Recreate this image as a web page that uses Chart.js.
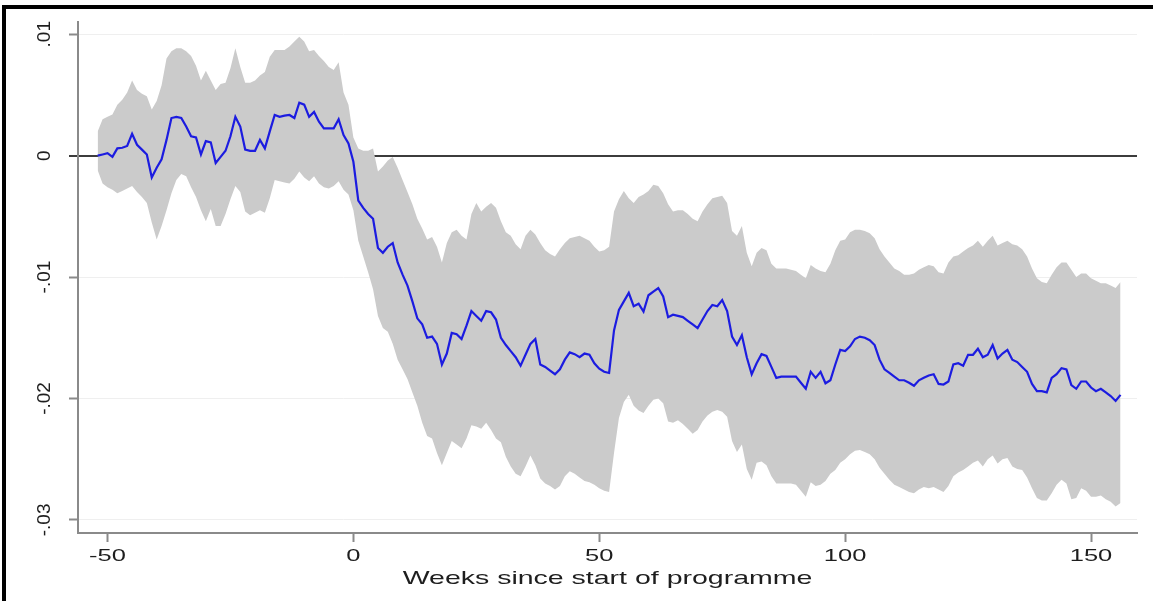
<!DOCTYPE html>
<html><head><meta charset="utf-8">
<script src="https://cdn.jsdelivr.net/npm/chart.js@4.4.0/dist/chart.umd.min.js"></script>
<style>
html,body{margin:0;padding:0;background:#fff;}
#wrap{position:relative;width:1153px;height:601px;overflow:hidden;background:#fff}
#frame{position:absolute;left:2px;top:5px;width:1200px;height:700px;border-left:4px solid #000;border-top:4px solid #000;box-sizing:border-box;pointer-events:none}
</style></head><body>
<div id="wrap"><canvas id="c" width="1153" height="601"></canvas><div id="frame"></div></div>
<script>
const weeks = [-52,-51,-50,-49,-48,-47,-46,-45,-44,-43,
-42,-41,-40,-39,-38,-37,-36,-35,-34,-33,
-32,-31,-30,-29,-28,-27,-26,-25,-24,-23,
-22,-21,-20,-19,-18,-17,-16,-15,-14,-13,
-12,-11,-10,-9,-8,-7,-6,-5,-4,-3,
-2,-1,0,1,2,3,4,5,6,7,
8,9,10,11,12,13,14,15,16,17,
18,19,20,21,22,23,24,25,26,27,
28,29,30,31,32,33,34,35,36,37,
38,39,40,41,42,43,44,45,46,47,
48,49,50,51,52,53,54,55,56,57,
58,59,60,61,62,63,64,65,66,67,
68,69,70,71,72,73,74,75,76,77,
78,79,80,81,82,83,84,85,86,87,
88,89,90,91,92,93,94,95,96,97,
98,99,100,101,102,103,104,105,106,107,
108,109,110,111,112,113,114,115,116,117,
118,119,120,121,122,123,124,125,126,127,
128,129,130,131,132,133,134,135,136,137,
138,139,140,141,142,143,144,145,146,147,
148,149,150,151,152,153,154,155,156];

const estimate = [0,0.1e-3,0.2e-3,-0.1e-3,0.6e-3,0.65e-3,0.8e-3,1.8e-3,0.9e-3,0.5e-3,
0.1e-3,-1.8e-3,-1.0e-3,-0.3e-3,1.3e-3,3.1e-3,3.2e-3,3.1e-3,2.4e-3,1.6e-3,
1.5e-3,0.1e-3,1.2e-3,1.1e-3,-0.6e-3,-0.1e-3,0.4e-3,1.6e-3,3.2e-3,2.4e-3,
0.5e-3,0.4e-3,0.4e-3,1.3e-3,0.6e-3,2.0e-3,3.35e-3,3.2e-3,3.3e-3,3.35e-3,
3.1e-3,4.37e-3,4.2e-3,3.2e-3,3.6e-3,2.8e-3,2.25e-3,2.25e-3,2.25e-3,3.0e-3,
1.7e-3,1.0e-3,-0.5e-3,-3.7e-3,-4.3e-3,-4.8e-3,-5.2e-3,-7.6e-3,-8.0e-3,-7.5e-3,
-7.2e-3,-8.8e-3,-9.8e-3,-10.7e-3,-12.0e-3,-13.4e-3,-13.9e-3,-15.0e-3,-14.9e-3,-15.5e-3,
-17.2e-3,-16.3e-3,-14.6e-3,-14.7e-3,-15.1e-3,-14.0e-3,-12.8e-3,-13.2e-3,-13.6e-3,-12.8e-3,
-12.9e-3,-13.5e-3,-15.0e-3,-15.6e-3,-16.1e-3,-16.6e-3,-17.3e-3,-16.4e-3,-15.5e-3,-15.1e-3,
-17.2e-3,-17.4e-3,-17.7e-3,-18.0e-3,-17.6e-3,-16.8e-3,-16.2e-3,-16.35e-3,-16.6e-3,-16.3e-3,
-16.4e-3,-17.1e-3,-17.55e-3,-17.8e-3,-17.9e-3,-14.4e-3,-12.7e-3,-12.0e-3,-11.3e-3,-12.4e-3,
-12.2e-3,-12.85e-3,-11.5e-3,-11.2e-3,-10.9e-3,-11.6e-3,-13.3e-3,-13.1e-3,-13.2e-3,-13.3e-3,
-13.6e-3,-13.9e-3,-14.2e-3,-13.5e-3,-12.8e-3,-12.3e-3,-12.4e-3,-11.9e-3,-12.8e-3,-14.9e-3,
-15.6e-3,-14.8e-3,-16.6e-3,-18.0e-3,-17.1e-3,-16.35e-3,-16.5e-3,-17.4e-3,-18.3e-3,-18.2e-3,
-18.2e-3,-18.2e-3,-18.2e-3,-18.7e-3,-19.2e-3,-17.8e-3,-18.3e-3,-17.8e-3,-18.75e-3,-18.5e-3,
-17.2e-3,-16.0e-3,-16.1e-3,-15.7e-3,-15.1e-3,-14.9e-3,-15.0e-3,-15.2e-3,-15.6e-3,-16.8e-3,
-17.6e-3,-17.9e-3,-18.2e-3,-18.5e-3,-18.5e-3,-18.7e-3,-18.95e-3,-18.5e-3,-18.3e-3,-18.1e-3,
-18.0e-3,-18.8e-3,-18.85e-3,-18.6e-3,-17.2e-3,-17.1e-3,-17.3e-3,-16.4e-3,-16.4e-3,-15.9e-3,
-16.6e-3,-16.4e-3,-15.6e-3,-16.7e-3,-16.3e-3,-16.0e-3,-16.8e-3,-17.0e-3,-17.4e-3,-17.8e-3,
-18.8e-3,-19.4e-3,-19.4e-3,-19.5e-3,-18.3e-3,-18.0e-3,-17.5e-3,-17.6e-3,-18.9e-3,-19.2e-3,
-18.6e-3,-18.6e-3,-19.1e-3,-19.4e-3,-19.2e-3,-19.5e-3,-19.8e-3,-20.2e-3,-19.7e-3];

const ciUpper = [2.0e-3,3.0e-3,3.2e-3,3.4e-3,4.2e-3,4.6e-3,5.2e-3,6.2e-3,5.4e-3,5.1e-3,
4.9e-3,3.8e-3,4.5e-3,5.8e-3,8.0e-3,8.6e-3,8.85e-3,8.85e-3,8.6e-3,8.2e-3,
7.4e-3,6.2e-3,7.0e-3,6.2e-3,5.4e-3,5.9e-3,6.0e-3,7.2e-3,8.85e-3,7.3e-3,
6.0e-3,6.0e-3,6.2e-3,6.6e-3,6.9e-3,8.15e-3,8.7e-3,8.7e-3,8.7e-3,9.0e-3,
9.4e-3,9.8e-3,9.4e-3,8.6e-3,8.7e-3,8.2e-3,7.8e-3,7.3e-3,7.06e-3,7.7e-3,
5.2e-3,4.2e-3,1.5e-3,0.6e-3,0.4e-3,0.4e-3,0.6e-3,-1.3e-3,-0.9e-3,-0.4e-3,
-0.1e-3,-1.0e-3,-2.0e-3,-3.0e-3,-4.0e-3,-5.2e-3,-6.0e-3,-6.9e-3,-6.7e-3,-7.5e-3,
-8.8e-3,-7.2e-3,-6.3e-3,-6.1e-3,-6.6e-3,-6.9e-3,-4.8e-3,-3.9e-3,-4.6e-3,-4.2e-3,
-3.9e-3,-4.3e-3,-5.4e-3,-6.3e-3,-6.6e-3,-7.3e-3,-7.7e-3,-6.6e-3,-6.1e-3,-6.5e-3,
-7.2e-3,-7.8e-3,-8.1e-3,-8.3e-3,-7.7e-3,-7.2e-3,-6.8e-3,-6.7e-3,-6.6e-3,-6.8e-3,
-7.0e-3,-7.5e-3,-7.9e-3,-7.8e-3,-7.5e-3,-4.6e-3,-3.6e-3,-2.9e-3,-3.5e-3,-3.9e-3,
-3.4e-3,-3.2e-3,-2.9e-3,-2.4e-3,-2.5e-3,-3.1e-3,-4.0e-3,-4.6e-3,-4.5e-3,-4.5e-3,
-4.8e-3,-5.2e-3,-5.4e-3,-4.6e-3,-4.0e-3,-3.5e-3,-3.4e-3,-3.3e-3,-3.9e-3,-6.2e-3,
-6.6e-3,-5.8e-3,-8.0e-3,-9.1e-3,-8.0e-3,-7.6e-3,-7.8e-3,-8.9e-3,-9.3e-3,-9.3e-3,
-9.3e-3,-9.4e-3,-9.5e-3,-9.8e-3,-10.1e-3,-9.0e-3,-9.3e-3,-9.5e-3,-9.6e-3,-8.9e-3,
-7.8e-3,-7.0e-3,-6.9e-3,-6.3e-3,-6.1e-3,-6.1e-3,-6.2e-3,-6.4e-3,-6.8e-3,-7.7e-3,
-8.3e-3,-8.8e-3,-9.3e-3,-9.5e-3,-9.8e-3,-9.8e-3,-9.7e-3,-9.4e-3,-9.2e-3,-9.0e-3,
-9.1e-3,-9.6e-3,-9.7e-3,-8.8e-3,-8.3e-3,-8.2e-3,-7.9e-3,-7.6e-3,-7.4e-3,-7.0e-3,
-7.5e-3,-7.0e-3,-6.6e-3,-7.4e-3,-7.2e-3,-7.0e-3,-7.3e-3,-7.4e-3,-7.7e-3,-8.3e-3,
-9.3e-3,-10.1e-3,-10.4e-3,-10.5e-3,-9.8e-3,-9.2e-3,-8.8e-3,-8.8e-3,-9.4e-3,-10.0e-3,
-9.7e-3,-9.7e-3,-10.1e-3,-10.3e-3,-10.5e-3,-10.5e-3,-10.7e-3,-10.9e-3,-10.4e-3];

const ciLower = [-1.2e-3,-2.3e-3,-2.6e-3,-2.8e-3,-3.1e-3,-2.9e-3,-2.7e-3,-2.5e-3,-3.0e-3,-3.4e-3,
-3.9e-3,-5.5e-3,-6.9e-3,-5.8e-3,-4.5e-3,-3.1e-3,-2.0e-3,-1.5e-3,-1.7e-3,-2.6e-3,
-3.4e-3,-4.5e-3,-5.4e-3,-4.4e-3,-5.8e-3,-5.8e-3,-4.8e-3,-3.6e-3,-2.5e-3,-3.0e-3,
-4.6e-3,-4.9e-3,-4.7e-3,-4.5e-3,-4.7e-3,-3.5e-3,-2.0e-3,-2.1e-3,-2.2e-3,-2.3e-3,
-1.9e-3,-1.3e-3,-1.8e-3,-2.1e-3,-1.7e-3,-2.3e-3,-2.6e-3,-2.7e-3,-2.5e-3,-2.1e-3,
-2.8e-3,-3.2e-3,-4.5e-3,-7.0e-3,-8.3e-3,-9.6e-3,-11.0e-3,-13.2e-3,-14.2e-3,-14.5e-3,
-15.5e-3,-16.8e-3,-17.6e-3,-18.4e-3,-19.5e-3,-20.6e-3,-22.0e-3,-23.1e-3,-23.3e-3,-24.5e-3,
-25.5e-3,-24.5e-3,-23.5e-3,-23.8e-3,-24.1e-3,-23.3e-3,-22.2e-3,-22.3e-3,-22.5e-3,-22.0e-3,
-22.6e-3,-23.3e-3,-23.6e-3,-24.8e-3,-25.6e-3,-26.2e-3,-26.4e-3,-25.6e-3,-24.7e-3,-25.5e-3,
-26.6e-3,-27.0e-3,-27.2e-3,-27.5e-3,-27.2e-3,-26.4e-3,-26.0e-3,-26.2e-3,-26.5e-3,-26.8e-3,
-26.9e-3,-27.1e-3,-27.4e-3,-27.6e-3,-27.7e-3,-24.5e-3,-21.6e-3,-20.3e-3,-19.7e-3,-20.6e-3,
-21.0e-3,-21.2e-3,-20.6e-3,-20.1e-3,-20.0e-3,-20.4e-3,-21.9e-3,-22.0e-3,-21.8e-3,-22.1e-3,
-22.5e-3,-22.9e-3,-22.6e-3,-21.9e-3,-21.4e-3,-21.1e-3,-20.95e-3,-21.1e-3,-21.5e-3,-23.5e-3,
-24.4e-3,-23.8e-3,-25.8e-3,-26.7e-3,-25.3e-3,-25.2e-3,-25.5e-3,-26.4e-3,-27.0e-3,-27.0e-3,
-27.0e-3,-27.0e-3,-27.1e-3,-27.6e-3,-28.1e-3,-26.9e-3,-27.2e-3,-27.1e-3,-26.8e-3,-26.2e-3,
-25.9e-3,-25.3e-3,-25.0e-3,-24.6e-3,-24.3e-3,-24.25e-3,-24.4e-3,-24.6e-3,-25.0e-3,-25.7e-3,
-26.2e-3,-26.7e-3,-27.1e-3,-27.3e-3,-27.5e-3,-27.7e-3,-27.8e-3,-27.5e-3,-27.3e-3,-27.4e-3,
-27.3e-3,-27.5e-3,-27.7e-3,-27.2e-3,-26.4e-3,-26.1e-3,-25.9e-3,-25.6e-3,-25.3e-3,-25.1e-3,
-25.6e-3,-25.0e-3,-24.7e-3,-25.35e-3,-25.0e-3,-24.9e-3,-25.6e-3,-25.8e-3,-25.9e-3,-26.5e-3,
-27.4e-3,-28.2e-3,-28.4e-3,-28.4e-3,-27.8e-3,-27.1e-3,-26.7e-3,-27.0e-3,-28.3e-3,-28.2e-3,
-27.4e-3,-27.6e-3,-28.1e-3,-28.1e-3,-28.0e-3,-28.3e-3,-28.5e-3,-28.9e-3,-28.6e-3];

const xTickValues = [-50, 0, 50, 100, 150];
const xTickLabels = ['-50', '0', '50', '100', '150'];
const yTickValues = [0.01, 0, -0.01, -0.02, -0.03];
const yTickLabels = ['.01', '0', '-.01', '-.02', '-.03'];
const xTitle = 'Weeks since start of programme';

const pts = arr => weeks.map((w, i) => ({ x: w, y: arr[i] }));

const textPlugin = {
  id: 'stataText',
  afterDraw(chart) {
    const ctx = chart.ctx, xs = chart.scales.x, ys = chart.scales.y;
    ctx.save();
    ctx.fillStyle = '#1e1e1e';
    ctx.textAlign = 'center';
    ctx.textBaseline = 'middle';
    ctx.font = '19px "Liberation Sans", Arial, sans-serif';
    yTickValues.forEach((v, i) => {
      ctx.save();
      ctx.translate(45, ys.getPixelForValue(v));
      ctx.rotate(-Math.PI / 2);
      ctx.fillText(yTickLabels[i], 0, 0);
      ctx.restore();
    });
    ctx.font = '17px "Liberation Sans", Arial, sans-serif';
    xTickValues.forEach((v, i) => {
      ctx.save();
      ctx.translate(xs.getPixelForValue(v), 556);
      ctx.scale(1.5, 1);
      ctx.fillText(xTickLabels[i], 0, 0);
      ctx.restore();
    });
    ctx.font = '19px "Liberation Sans", Arial, sans-serif';
    ctx.save();
    ctx.translate((xs.left + xs.right) / 2, 579);
    ctx.scale(1.5, 1);
    ctx.fillText(xTitle, 0, 0);
    ctx.restore();
    ctx.restore();
  }
};

new Chart(document.getElementById('c'), {
  type: 'line',
  data: {
    datasets: [
      { label: 'Estimate', data: pts(estimate), borderColor: '#1c1ce0', borderWidth: 2.2, pointRadius: 0, fill: false, tension: 0 },
      { label: 'Upper', data: pts(ciUpper), borderWidth: 0, borderColor: 'rgba(0,0,0,0)', backgroundColor: '#cbcbcb', pointRadius: 0, fill: '+1', tension: 0 },
      { label: 'Lower', data: pts(ciLower), borderWidth: 0, borderColor: 'rgba(0,0,0,0)', pointRadius: 0, fill: false, tension: 0 }
    ]
  },
  options: {
    responsive: false,
    animation: false,
    devicePixelRatio: 1,
    layout: { padding: { left: 0, right: 16, top: 22, bottom: 0 } },
    plugins: { legend: { display: false }, tooltip: { enabled: false } },
    scales: {
      x: {
        type: 'linear', min: -56, max: 159.35,
        afterBuildTicks(s) { s.ticks = xTickValues.map(v => ({ value: v })); },
        afterFit(s) { s.height = 68; },
        ticks: { display: false },
        grid: { drawOnChartArea: false, drawTicks: true, tickLength: 9, tickColor: '#8a8a8a', tickWidth: 2 },
        border: { display: true, color: '#8a8a8a', width: 2 }
      },
      y: {
        type: 'linear', min: -0.03108, max: 0.01101,
        afterBuildTicks(s) { s.ticks = yTickValues.map(v => ({ value: v })); },
        afterFit(s) { s.width = 78; },
        ticks: { display: false },
        grid: {
          color: c => (c.tick && c.tick.value === 0) ? '#3c3c3c' : '#efefef',
          lineWidth: c => (c.tick && c.tick.value === 0) ? 2 : 1,
          tickLength: 9,
          tickColor: c => (c.tick && c.tick.value === 0) ? '#3c3c3c' : '#8a8a8a',
          tickWidth: 2
        },
        border: { display: true, color: '#8a8a8a', width: 2 }
      }
    }
  },
  plugins: [textPlugin]
});
</script>
</body></html>
